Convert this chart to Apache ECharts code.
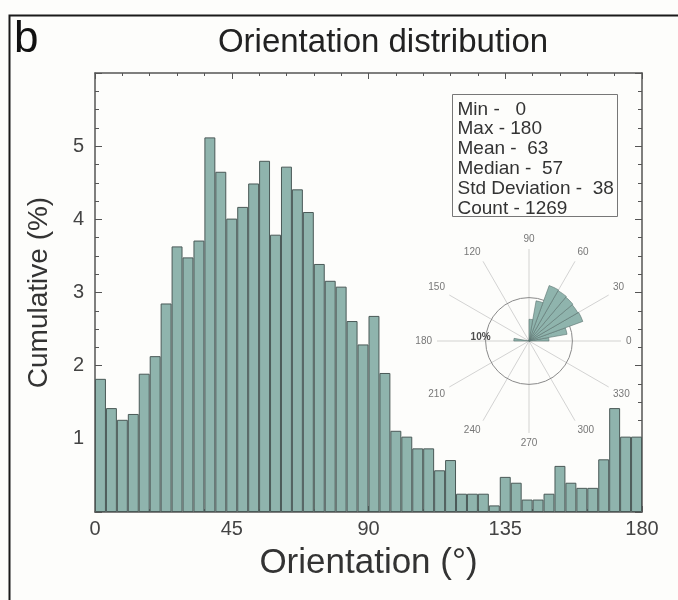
<!DOCTYPE html>
<html>
<head>
<meta charset="utf-8">
<script src="https://cdn.jsdelivr.net/npm/echarts@6/dist/echarts.min.js"></script>
<style>
  html, body { margin: 0; padding: 0; background: #fdfdfb; }
  #chart { width: 678px; height: 600px; }
</style>
</head>
<body>
<div id="chart"></div>
<script>
// Histogram of orientations: 3.6° bins from 0 to 180, percentage per bin
const BIN_WIDTH = 3.6;
const percentValues = [
  1.82, 1.42, 1.26, 1.34, 1.89, 2.13, 2.85, 3.63, 3.48, 3.71,
  5.12, 4.65, 4.01, 4.17, 4.49, 4.80, 3.79, 4.72, 4.41, 4.10,
  3.39, 3.16, 3.08, 2.61, 2.29, 2.68, 1.90, 1.11, 1.03, 0.87,
  0.87, 0.57, 0.71, 0.25, 0.25, 0.25, 0.09, 0.48, 0.40, 0.17,
  0.17, 0.25, 0.63, 0.40, 0.33, 0.33, 0.72, 1.42, 1.03, 1.03
];
const binStarts = percentValues.map((_, i) => +(i * BIN_WIDTH).toFixed(1));

// Rose diagram: 10° sectors (start angle) and their percentage
const ROSE_BIN = 10;
const roseAngles = [0, 10, 20, 30, 40, 50, 60, 70, 80, 170];
const roseValues = [4.6, 8.9, 13.2, 13.0, 13.2, 13.4, 13.6, 9.4, 5.0, 3.5];
const roseRing = 10;

// Summary statistics
const statLabels = ['Min', 'Max', 'Mean', 'Median', 'Std Deviation', 'Count'];
const statValues = ['  0', '180', ' 63', ' 57', ' 38', '1269'];

const FONT = 'Liberation Sans, Arial, Helvetica, sans-serif';
const BAR_FILL = '#8fb4ad';
const BAR_EDGE = '#4a5957';
const AXIS = '#555';

const chart = echarts.init(document.getElementById('chart'), null, { renderer: 'canvas' });

// Frame axis helper: line + inward ticks, no zero snapping
function frameAxis(extra, majorLen, minorLen, minorSplit) {
  return Object.assign({
    axisLine: { show: true, onZero: false, lineStyle: { color: AXIS, width: 1.5 } },
    axisTick: { show: true, inside: true, length: majorLen, lineStyle: { color: AXIS } },
    minorTick: { show: true, splitNumber: minorSplit, length: minorLen, lineStyle: { color: AXIS } },
    splitLine: { show: false }
  }, extra);
}

const option = {
  backgroundColor: '#fdfdfb',
  animation: false,
  textStyle: { fontFamily: FONT },
  title: [
    {
      text: 'Orientation distribution',
      left: 378, top: 21, textAlign: 'center',
      textStyle: { fontSize: 33, fontWeight: 'normal', color: '#222', fontFamily: FONT }
    },
    {
      text: 'b',
      left: 9, top: 13,
      textStyle: { fontSize: 44, fontWeight: 'normal', color: '#111', fontFamily: FONT }
    }
  ],
  grid: { left: 95, top: 73, width: 547, height: 439, containLabel: false },
  xAxis: [
    { type: 'category', data: binStarts, show: false, boundaryGap: true,
      axisLine: { onZero: false } },
    frameAxis({
      type: 'value', position: 'bottom', min: 0, max: 180, interval: 45,
      name: 'Orientation (°)', nameLocation: 'middle', nameGap: 34,
      nameTextStyle: { fontSize: 35, color: '#333', fontFamily: FONT },
      axisLabel: { fontSize: 20, color: '#444', margin: 7, fontFamily: FONT }
    }, 6, 3, 5),
    frameAxis({
      type: 'value', position: 'top', min: 0, max: 180, interval: 45,
      axisLabel: { show: false }
    }, 6, 3, 5)
  ],
  yAxis: [
    frameAxis({
      type: 'value', position: 'left', min: 0, max: 6, interval: 1,
      name: 'Cumulative (%)', nameLocation: 'middle', nameGap: 42,
      nameTextStyle: { fontSize: 28, color: '#333', fontFamily: FONT },
      axisLabel: {
        fontSize: 20, color: '#444', margin: 11, fontFamily: FONT,
        formatter: v => (v === 0 || v === 6) ? '' : String(v)
      }
    }, 7, 4, 4),
    frameAxis({
      type: 'value', position: 'right', min: 0, max: 6, interval: 1,
      axisLabel: { show: false }
    }, 7, 4, 4)
  ],
  polar: { center: [529, 341], radius: 92 },
  angleAxis: {
    type: 'value', min: 0, max: 360, interval: 30, startAngle: 0, clockwise: false,
    axisLine: { show: false },
    axisTick: { show: false },
    axisLabel: {
      fontSize: 10, color: '#777', margin: 5, fontFamily: FONT,
      formatter: v => v >= 360 ? '' : String(v)
    },
    splitLine: { show: true, lineStyle: { color: '#c8c8c8', width: 0.8 } }
  },
  radiusAxis: {
    type: 'value', min: 0, max: 21.2,
    axisLine: { show: false }, axisTick: { show: false },
    axisLabel: { show: false }, splitLine: { show: false }
  },
  series: [
    {
      type: 'bar',
      xAxisIndex: 0, yAxisIndex: 0,
      data: percentValues,
      barCategoryGap: '0%',
      itemStyle: { color: BAR_FILL, borderColor: BAR_EDGE, borderWidth: 1 },
      silent: true
    },
    {
      // 10% reference ring
      type: 'custom', coordinateSystem: 'polar', polarIndex: 0,
      data: [[roseRing, 0]],
      encode: { radius: 0, angle: 1 },
      renderItem: (params, api) => {
        const c = api.coord([0, 0]);
        const p = api.coord([api.value(0), api.value(1)]);
        const r = Math.hypot(p[0] - c[0], p[1] - c[1]);
        return {
          type: 'circle',
          shape: { cx: c[0], cy: c[1], r: r },
          style: { fill: 'none', stroke: '#8a8a8a', lineWidth: 1 }
        };
      },
      silent: true, z: 3
    },
    {
      // Rose petals
      type: 'custom', coordinateSystem: 'polar', polarIndex: 0,
      data: roseAngles.map((a, i) => [roseValues[i], a]),
      encode: { radius: 0, angle: 1 },
      renderItem: (params, api) => {
        const a0 = api.value(1), a1 = a0 + ROSE_BIN;
        const c = api.coord([0, 0]);
        const p = api.coord([api.value(0), a0]);
        const r = Math.hypot(p[0] - c[0], p[1] - c[1]);
        return {
          type: 'sector',
          shape: {
            cx: c[0], cy: c[1], r0: 0, r: r,
            startAngle: -a0 * Math.PI / 180, endAngle: -a1 * Math.PI / 180,
            clockwise: false
          },
          style: { fill: BAR_FILL, stroke: '#5d7470', lineWidth: 0.6 }
        };
      },
      silent: true, z: 4
    },
    {
      // Ring label
      type: 'scatter', coordinateSystem: 'polar', polarIndex: 0,
      data: [[roseRing, 180]],
      symbolSize: 0,
      label: {
        show: true, position: 'top', distance: 0, offset: [-5, 1],
        formatter: roseRing + '%',
        fontSize: 10, fontWeight: 'bold', color: '#222', fontFamily: FONT
      },
      silent: true, z: 5
    }
  ],
  graphic: [
    {
      type: 'rect', left: 7, top: 13, silent: true,
      shape: { width: 700, height: 700 },
      style: { fill: 'none', stroke: '#1a1a1a', lineWidth: 2 }
    },
    {
      type: 'group', left: 452, top: 94, silent: true,
      children: [
        {
          type: 'rect',
          shape: { x: 0, y: 0, width: 165, height: 122 },
          style: { fill: '#fdfdfb', stroke: '#777', lineWidth: 1 }
        },
        {
          type: 'text', x: 5, y: 5,
          style: {
            text: statLabels.map((l, i) => l + ' - ' + statValues[i]).join('\n'),
            fontSize: 19, lineHeight: 19.8, fill: '#333', fontFamily: FONT
          }
        }
      ]
    }
  ]
};

chart.setOption(option);
</script>
</body>
</html>
